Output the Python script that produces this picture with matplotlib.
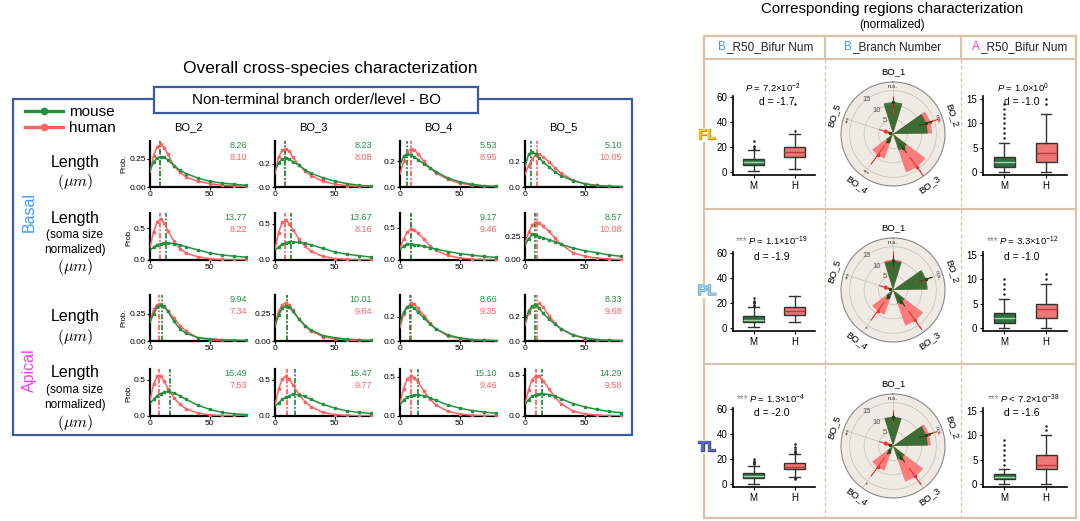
import numpy as np
import matplotlib
matplotlib.use('Agg')
import matplotlib.pyplot as plt
import matplotlib.patches as patches
import matplotlib.patheffects as pe
from matplotlib.lines import Line2D

plt.rcParams['font.family'] = ['Liberation Sans', 'DejaVu Sans']
plt.rcParams['mathtext.fontset'] = 'custom'
plt.rcParams['mathtext.rm'] = 'Liberation Sans'
plt.rcParams['mathtext.it'] = 'Liberation Sans:italic'

# ---------------- left: length distributions ----------------
bo_cols = ['BO_2', 'BO_3', 'BO_4', 'BO_5']
xs = [0, 3, 6, 9, 12, 15, 20, 25, 30, 40, 50, 60, 70, 80]

basal_len_mouse = [
    [0.15, 0.22, 0.26, 0.27, 0.265, 0.24, 0.19, 0.15, 0.12, 0.08, 0.05, 0.035, 0.025, 0.015],
    [0.14, 0.21, 0.245, 0.25, 0.24, 0.22, 0.19, 0.15, 0.12, 0.08, 0.05, 0.03, 0.015, 0.008],
    [0.17, 0.24, 0.26, 0.25, 0.235, 0.215, 0.18, 0.15, 0.12, 0.07, 0.04, 0.02, 0.01, 0.005],
    [0.16, 0.26, 0.28, 0.26, 0.23, 0.20, 0.16, 0.12, 0.09, 0.05, 0.025, 0.012, 0.006, 0.003],
]
basal_len_human = [
    [0.13, 0.28, 0.36, 0.38, 0.35, 0.29, 0.19, 0.13, 0.09, 0.05, 0.03, 0.015, 0.01, 0.005],
    [0.12, 0.26, 0.32, 0.33, 0.31, 0.26, 0.19, 0.14, 0.10, 0.05, 0.025, 0.012, 0.006, 0.003],
    [0.10, 0.20, 0.27, 0.30, 0.29, 0.26, 0.20, 0.15, 0.11, 0.06, 0.03, 0.015, 0.008, 0.004],
    [0.10, 0.17, 0.22, 0.255, 0.26, 0.24, 0.20, 0.15, 0.11, 0.055, 0.025, 0.012, 0.006, 0.003],
]
basal_norm_mouse = [
    [0.15, 0.20, 0.24, 0.26, 0.27, 0.27, 0.26, 0.24, 0.21, 0.16, 0.11, 0.08, 0.06, 0.045],
    [0.13, 0.18, 0.22, 0.24, 0.25, 0.25, 0.245, 0.23, 0.21, 0.16, 0.11, 0.08, 0.06, 0.04],
    [0.16, 0.22, 0.25, 0.25, 0.24, 0.23, 0.21, 0.19, 0.17, 0.13, 0.10, 0.075, 0.055, 0.04],
    [0.16, 0.23, 0.28, 0.27, 0.255, 0.24, 0.22, 0.20, 0.17, 0.13, 0.10, 0.08, 0.055, 0.04],
]
basal_norm_human = [
    [0.20, 0.45, 0.60, 0.65, 0.58, 0.46, 0.30, 0.18, 0.11, 0.05, 0.02, 0.008, 0.004, 0.002],
    [0.15, 0.38, 0.52, 0.55, 0.50, 0.42, 0.29, 0.19, 0.12, 0.05, 0.02, 0.01, 0.004, 0.002],
    [0.18, 0.33, 0.43, 0.48, 0.47, 0.42, 0.32, 0.22, 0.15, 0.07, 0.03, 0.015, 0.007, 0.003],
    [0.18, 0.30, 0.38, 0.41, 0.40, 0.37, 0.31, 0.24, 0.17, 0.08, 0.04, 0.02, 0.01, 0.005],
]
apical_len_mouse = [
    [0.17, 0.25, 0.31, 0.33, 0.32, 0.27, 0.18, 0.11, 0.07, 0.03, 0.02, 0.012, 0.008, 0.005],
    [0.13, 0.24, 0.30, 0.32, 0.31, 0.27, 0.20, 0.14, 0.10, 0.05, 0.03, 0.018, 0.01, 0.005],
    [0.15, 0.24, 0.28, 0.29, 0.27, 0.24, 0.19, 0.14, 0.10, 0.05, 0.025, 0.012, 0.006, 0.003],
    [0.15, 0.25, 0.29, 0.30, 0.27, 0.23, 0.18, 0.14, 0.10, 0.05, 0.025, 0.012, 0.006, 0.003],
]
apical_len_human = [
    [0.17, 0.29, 0.33, 0.34, 0.31, 0.27, 0.21, 0.14, 0.09, 0.03, 0.012, 0.005, 0.003, 0.001],
    [0.14, 0.27, 0.33, 0.35, 0.33, 0.28, 0.20, 0.14, 0.09, 0.04, 0.02, 0.01, 0.005, 0.002],
    [0.11, 0.22, 0.28, 0.31, 0.305, 0.27, 0.21, 0.15, 0.10, 0.04, 0.02, 0.01, 0.005, 0.002],
    [0.13, 0.23, 0.28, 0.30, 0.31, 0.28, 0.21, 0.15, 0.10, 0.05, 0.02, 0.01, 0.005, 0.002],
]
apical_norm_mouse = [
    [0.17, 0.23, 0.28, 0.31, 0.33, 0.34, 0.32, 0.28, 0.23, 0.15, 0.09, 0.05, 0.03, 0.02],
    [0.13, 0.18, 0.23, 0.26, 0.28, 0.30, 0.29, 0.27, 0.23, 0.16, 0.11, 0.07, 0.05, 0.035],
    [0.14, 0.20, 0.24, 0.26, 0.27, 0.27, 0.26, 0.23, 0.20, 0.14, 0.10, 0.07, 0.05, 0.035],
    [0.14, 0.20, 0.24, 0.26, 0.27, 0.27, 0.26, 0.24, 0.21, 0.15, 0.11, 0.08, 0.055, 0.04],
]
apical_norm_human = [
    [0.22, 0.44, 0.55, 0.55, 0.48, 0.38, 0.25, 0.16, 0.10, 0.04, 0.015, 0.006, 0.003, 0.001],
    [0.15, 0.37, 0.51, 0.55, 0.51, 0.43, 0.30, 0.20, 0.13, 0.05, 0.02, 0.008, 0.004, 0.002],
    [0.16, 0.35, 0.47, 0.51, 0.49, 0.43, 0.32, 0.22, 0.14, 0.06, 0.025, 0.01, 0.005, 0.002],
    [0.15, 0.32, 0.44, 0.49, 0.48, 0.43, 0.33, 0.23, 0.15, 0.06, 0.025, 0.01, 0.005, 0.002],
]

# medians shown as numbers + vertical lines
mouse_med = [[8.26, 8.23, 5.53, 5.10], [13.77, 13.67, 9.17, 8.57],
             [9.94, 10.01, 8.66, 8.33], [16.49, 16.47, 15.10, 14.29]]
human_med = [[8.10, 8.08, 8.95, 10.05], [8.22, 8.16, 9.46, 10.08],
             [7.34, 9.64, 9.35, 9.68], [7.53, 9.77, 9.46, 9.58]]

# ---------------- right: corresponding regions ----------------
regions = ['FL', 'PL', 'TL']
box_groups = ['M', 'H']
# [whislo, q1, median, q3, whishi]
b_bifur_M = [[1, 6, 8, 11, 18], [1, 5, 7, 10, 17], [0, 5, 7, 9, 15]]
b_bifur_H = [[3, 12, 16, 20, 31], [5, 11, 14, 17, 26], [6, 12, 14, 17, 24]]
b_bifur_M_out = [[19, 20, 21, 25], [18, 19, 20, 21, 22, 24], [16, 17, 18, 19, 20]]
b_bifur_H_out = [[33, 55], [], [25, 26, 27, 28, 30, 32, 4, 5]]
a_bifur_M = [[0, 1, 2, 3, 6], [0, 1, 2, 3, 6], [0, 1, 1.5, 2, 3]]
a_bifur_H = [[0, 2, 4, 6, 12], [0, 2, 4, 5, 9], [0, 3, 4, 6, 10]]
a_bifur_M_out = [[7, 8, 9, 10, 11, 12, 13, 14], [7, 8, 9, 10], [4, 5, 6, 7, 8, 9]]
a_bifur_H_out = [[14, 15], [10, 11], [11, 12]]
p_texts_b = [r'$P$ = 7.2$\times$10$^{-2}$', r'$P$ = 1.1$\times$10$^{-19}$', r'$P$ = 1.3$\times$10$^{-4}$']
d_texts_b = ['d = -1.7', 'd = -1.9', 'd = -2.0']
p_texts_a = [r'$P$ = 1.0$\times$10$^{0}$', r'$P$ = 3.3$\times$10$^{-12}$', r'$P$ < 7.2$\times$10$^{-38}$']
d_texts_a = ['d = -1.0', 'd = -1.0', 'd = -1.6']
stars_b = ['', '***', '***']
stars_a = ['', '***', '***']

polar_labels = ['BO_1', 'BO_2', 'BO_3', 'BO_4', 'BO_5']
branch_mouse = [[11, 12, 6, 3, 1], [10, 12, 5, 3, 1], [10, 12, 5, 2.5, 1]]
branch_human = [[10, 13.5, 14, 9, 3], [10.5, 11.5, 13, 9, 3], [10, 13, 13, 9, 3]]
branch_mouse_err = [[1.5, 2.5, 2, 1, 0.5], [2, 2.5, 2, 1, 0.5], [1.5, 2.5, 2, 1, 0.5]]
branch_human_err = [[3, 3.5, 4, 4, 2], [3, 2.5, 4, 4, 2], [2.5, 3, 3.5, 4, 2]]
branch_sig = [['n.s.', 'n.s.', '*', '***', '***'],
              ['n.s.', 'n.s.', '*', '*', '***'],
              ['n.s.', 'n.s.', '*', '*', '***']]

green = '#239140'
red = '#FF6161'
blue_frame = '#3A5BA0'
tan = '#D9C3AA'

W, H = 1080, 521
fig = plt.figure(figsize=(10.8, 5.21), dpi=100)


def add_px(x0, y0, x1, y1, **kw):
    return fig.add_axes([x0 / W, 1 - y1 / H, (x1 - x0) / W, (y1 - y0) / H], **kw)


bg = add_px(0, 0, W, H)
bg.set_xlim(0, W)
bg.set_ylim(H, 0)
bg.axis('off')

# ---------- left panel frame and titles ----------
bg.text(330, 68, 'Overall cross-species characterization', ha='center', va='center', fontsize=12.5)
bg.add_patch(patches.Rectangle((13, 99), 619, 336, fill=False, ec=blue_frame, lw=1.6))
bg.add_patch(patches.Rectangle((154, 87), 324, 26, fc='white', ec=blue_frame, lw=1.6, zorder=3))
bg.text(316, 100, 'Non-terminal branch order/level - BO', ha='center', va='center', fontsize=11, zorder=4)

handles = [Line2D([], [], color=green, lw=2.4, marker='o', ms=4.5),
           Line2D([], [], color=red, lw=2.4, marker='o', ms=4.5)]
fig.legend(handles, ['mouse', 'human'], loc='upper left', bbox_to_anchor=(25 / W, 1 - 105 / H),
           frameon=False, fontsize=11, handlelength=2.5, handletextpad=0.4, labelspacing=0.15,
           borderpad=0, borderaxespad=0)

col_left = [150, 275, 400, 525]
row_span = [(141, 187), (213, 260), (295, 341), (369, 416)]
ytops = [[0.41, 0.40, 0.36, 0.365], [0.745, 0.65, 0.73, 0.51],
         [0.42, 0.42, 0.38, 0.38], [0.65, 0.65, 0.60, 0.57]]
yticks = [[0.25, 0.2, 0.2, 0.2], [0.5, 0.5, 0.5, 0.25],
          [0.25, 0.25, 0.2, 0.2], [0.5, 0.5, 0.5, 0.5]]

for c, name in enumerate(bo_cols):
    bg.text(col_left[c] + 38, 127, name, ha='center', va='center', fontsize=8)

# row labels
for y, s in [(162, 'Length'), (218, 'Length'), (316, 'Length'), (373, 'Length')]:
    bg.text(75, y, s, ha='center', va='center', fontsize=11.5)
for y in [182, 267, 337, 423]:
    bg.text(75, y, r'$(\mu m)$', ha='center', va='center', fontsize=11.5, math_fontfamily='cm')
for y, s in [(235, '(soma size'), (250, 'normalized)'), (390, '(soma size'), (405, 'normalized)')]:
    bg.text(75, y, s, ha='center', va='center', fontsize=8.5)
bg.text(29, 212, 'Basal', ha='center', va='center', rotation=90, fontsize=11.5, color='#3D9BFF')
bg.text(29, 370, 'Apical', ha='center', va='center', rotation=90, fontsize=11.5, color='#FF33FF')

rows = [(basal_len_mouse, basal_len_human), (basal_norm_mouse, basal_norm_human),
        (apical_len_mouse, apical_len_human), (apical_norm_mouse, apical_norm_human)]

for r, (mice, hums) in enumerate(rows):
    top, bot = row_span[r]
    for c in range(4):
        ax = add_px(col_left[c], top, col_left[c] + 97, bot)
        ax.set_facecolor('none')
        ax.plot(xs, hums[c], color=red, lw=1.1, marker='s', ms=1.8, markevery=slice(1, None), zorder=3)
        ax.plot(xs, mice[c], color=green, lw=1.1, marker='s', ms=1.8, markevery=slice(1, None), zorder=3)
        ax.axvline(human_med[r][c], color=red, lw=1.3, ls=(0, (3, 1, 1, 1)), zorder=2)
        ax.axvline(mouse_med[r][c], color=green, lw=1.3, ls=(0, (3, 1, 1, 1)), zorder=2)
        ax.text(1.0, 0.91, f'{mouse_med[r][c]:.2f}', transform=ax.transAxes, ha='right', va='center',
                color=green, fontsize=6.5)
        ax.text(1.0, 0.65, f'{human_med[r][c]:.2f}', transform=ax.transAxes, ha='right', va='center',
                color=red, fontsize=6.5)
        ax.set_xlim(0, 81)
        ax.set_ylim(0, ytops[r][c])
        ax.set_xticks([0, 50])
        yt = yticks[r][c]
        ax.set_yticks([0, yt])
        fmt = '{:.2f}' if yt == 0.25 else '{:.1f}'
        ax.set_yticklabels([fmt.format(0), fmt.format(yt)])
        for s in ['top', 'right']:
            ax.spines[s].set_visible(False)
        for s in ['left', 'bottom']:
            ax.spines[s].set_linewidth(1.6)
        ax.tick_params(labelsize=6, length=2, width=0.8, pad=1)
        if c == 0:
            ax.set_ylabel('Prob.', fontsize=5.5, labelpad=1)

# ---------- right panel ----------
bg.text(892, 9, 'Corresponding regions characterization', ha='center', va='center', fontsize=10.8)
bg.text(892, 25, '(normalized)', ha='center', va='center', fontsize=8.5)
bg.add_patch(patches.Rectangle((704, 36), 372, 482, fill=False, ec=tan, lw=1.6))
bg.add_patch(patches.Rectangle((704, 36), 372, 23, fill=False, ec=tan, lw=1.6))
for y in [209, 364]:
    bg.plot([704, 1076], [y, y], color=tan, lw=1.6)
for x in [825, 961]:
    bg.plot([x, x], [36, 59], color=tan, lw=1.6)
    bg.plot([x, x], [59, 518], color=tan, lw=0.9, ls=(0, (3, 2)))

for x0, first, col, rest in [(718, 'B', '#3D9BFF', '_R50_Bifur Num'),
                             (844, 'B', '#3D9BFF', '_Branch Number'),
                             (972, 'A', '#FF33FF', '_R50_Bifur Num')]:
    t = bg.text(x0, 47, first, color=col, fontsize=8.5, ha='left', va='center')
    bg.annotate(rest, xy=(1, 0.5), xycoords=t, ha='left', va='center', fontsize=8.5, color='#222222')

label_styles = [('#F2C230', '#C99A14'), ('#9ED0EA', '#5F9FC5'), ('#5A6AB8', '#3D4C95')]
box_edge = '#333333'
fill_M = '#2F7040'
fill_H = '#EF7676'


def draw_box(ax, mstat, hstat, mout, hout):
    stats = []
    for s, out in [(mstat, mout), (hstat, hout)]:
        stats.append(dict(whislo=s[0], q1=s[1], med=s[2], q3=s[3], whishi=s[4], fliers=out))
    b = ax.bxp(stats, positions=[1, 2], widths=0.5, patch_artist=True,
               boxprops=dict(ec=box_edge, lw=1.0), whiskerprops=dict(color=box_edge, lw=1.0),
               capprops=dict(color=box_edge, lw=1.0),
               flierprops=dict(marker='o', ms=1.8, mfc='#222222', mec='none'))
    b['boxes'][0].set_facecolor(fill_M)
    b['boxes'][1].set_facecolor(fill_H)
    b['medians'][0].set(color='#9FD3A8', lw=1.0)
    b['medians'][1].set(color='#B83A3A', lw=1.0)
    ax.set_facecolor('none')
    ax.set_xlim(0.5, 2.5)
    ax.set_xticks([1, 2])
    ax.set_xticklabels(box_groups)
    for s in ['top', 'right']:
        ax.spines[s].set_visible(False)
    for s in ['left', 'bottom']:
        ax.spines[s].set_linewidth(1.2)
    ax.tick_params(labelsize=7, length=2.5, width=0.8, pad=1.5)


def star_title(x, y, stars, ptxt):
    t = bg.text(x, y, stars, ha='left', va='center', fontsize=7, color='#888888')
    bg.annotate(ptxt, xy=(1, 0.5), xycoords=t, ha='left', va='center', fontsize=6.8)


theta = np.deg2rad(np.arange(5) * 72)
for i, reg in enumerate(regions):
    dy = 156 * i
    cy = 134 + dy
    fc, sc = label_styles[i]
    bg.text(707, cy + 1, reg, ha='center', va='center', fontsize=10.5, fontweight='bold', color=fc,
            path_effects=[pe.withStroke(linewidth=1.0, foreground=sc)],
            bbox=dict(fc='white', ec='none', pad=0.3), zorder=5)

    # B_R50_Bifur Num
    ax = add_px(733, 96 + dy, 815, 175 + dy)
    draw_box(ax, b_bifur_M[i], b_bifur_H[i], b_bifur_M_out[i], b_bifur_H_out[i])
    ax.set_ylim(-2, 61)
    ax.set_yticks([0, 20, 40, 60])
    star_title([745, 736, 737][i], [88, 241, 399][i], stars_b[i], p_texts_b[i])
    bg.text(777 if i == 0 else 772, [102, 257, 413][i], d_texts_b[i], ha='center', va='center', fontsize=7.5)

    # A_R50_Bifur Num
    ax = add_px(983, 96 + dy, 1067, 175 + dy)
    draw_box(ax, a_bifur_M[i], a_bifur_H[i], a_bifur_M_out[i], a_bifur_H_out[i])
    ax.set_ylim(-0.6, 15.6)
    ax.set_yticks([0, 5, 10, 15])
    star_title([997, 987, 988][i], [88, 241, 399][i], stars_a[i], p_texts_a[i])
    bg.text(1022, [102, 257, 413][i], d_texts_a[i], ha='center', va='center', fontsize=7.5)

    # B_Branch Number (polar)
    pax = add_px(841, cy - 52, 945, cy + 52, projection='polar')
    pax.set_theta_zero_location('N')
    pax.set_theta_direction(-1)
    pax.set_facecolor('#EFEBE4')
    pax.bar(theta, branch_human[i], width=0.6, color=red, alpha=0.8, zorder=2)
    pax.bar(theta, branch_mouse[i], width=0.6, color='#236B2B', alpha=0.88, zorder=3)
    pax.errorbar(theta, branch_human[i], yerr=branch_human_err[i], fmt='o', ms=1.5, color='#F03030',
                 lw=0.8, zorder=4)
    pax.errorbar(theta, branch_mouse[i], yerr=branch_mouse_err[i], fmt='o', ms=1.5, color='#14501A',
                 lw=0.8, zorder=5)
    pax.set_ylim(0, 18)
    pax.set_rticks([5, 10, 15])
    pax.set_rlabel_position(-45)
    pax.tick_params(axis='y', labelsize=5.5, labelcolor='#555555', pad=0)
    pax.set_xticks(theta)
    pax.set_xticklabels([])
    pax.grid(color='#C9C5BF', lw=0.6)
    pax.spines['polar'].set_color('#8A8A8A')
    pax.spines['polar'].set_linewidth(0.8)
    for k, lab in enumerate(polar_labels):
        deg = k * 72
        rot = -deg
        if rot < -90:
            rot += 180
        if rot < -90:
            rot += 180
        pax.text(theta[k], 21.5, lab, rotation=rot, rotation_mode='anchor', ha='center', va='center',
                 fontsize=6.8, clip_on=False)
        pax.text(theta[k], 16.3, branch_sig[i][k], rotation=rot, rotation_mode='anchor', ha='center',
                 va='center', fontsize=4.5, color='#333333')

fig.savefig('out.png', dpi=100)
